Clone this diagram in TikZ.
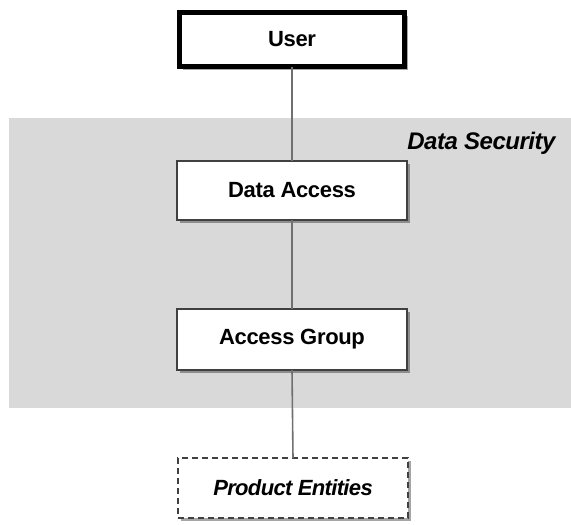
\documentclass[tikz,border=0pt]{standalone}
\usepackage{fontspec}
\setmainfont{Liberation Sans}
\usetikzlibrary{shadows}
\definecolor{zonegray}{HTML}{D9D9D9}
\definecolor{linkgray}{HTML}{707070}
\definecolor{boxedge}{HTML}{404040}
\tikzset{
  entity/.style={draw=boxedge, line width=1.3pt, fill=white, minimum width=230pt, minimum height=59pt,
    inner sep=0pt, outer sep=0pt, font=\fontsize{22}{24}\selectfont\bfseries\addfontfeatures{LetterSpace=-1.5},
    drop shadow={shadow xshift=3pt, shadow yshift=-3pt, fill=black, opacity=0.35}},
  userbox/.style={entity, draw=black, line width=5pt, minimum width=225pt, minimum height=54pt},
  optbox/.style={entity, dash pattern=on 6pt off 4pt, font=\fontsize{22}{24}\selectfont\bfseries\itshape\addfontfeatures{LetterSpace=-3}},
  link/.style={draw=linkgray, line width=1.6pt}
}
\begin{document}
\begin{tikzpicture}[x=1pt,y=-1pt]
\useasboundingbox (0,0) rectangle (571,525);
\fill[zonegray] (9,118) rectangle (571,408);
\node[anchor=east, font=\fontsize{24}{26}\selectfont\bfseries\itshape\addfontfeatures{LetterSpace=-2}] (zone) at (559,143) {Data Security};
\node[userbox] (user) at (292,39.5) {User};
\node[entity] (da) at (292,190.5) {Data Access};
\node[entity, minimum height=61pt] (ag) at (292,339.5) {Access Group};
\node[optbox, minimum height=60pt] (pe) at (293,488) {Product Entities};
\draw[link] (user.south) -- (da.north);
\draw[link] (da.south) -- (ag.north);
\draw[link] (ag.south) -- (pe.north);
\end{tikzpicture}
\end{document}
